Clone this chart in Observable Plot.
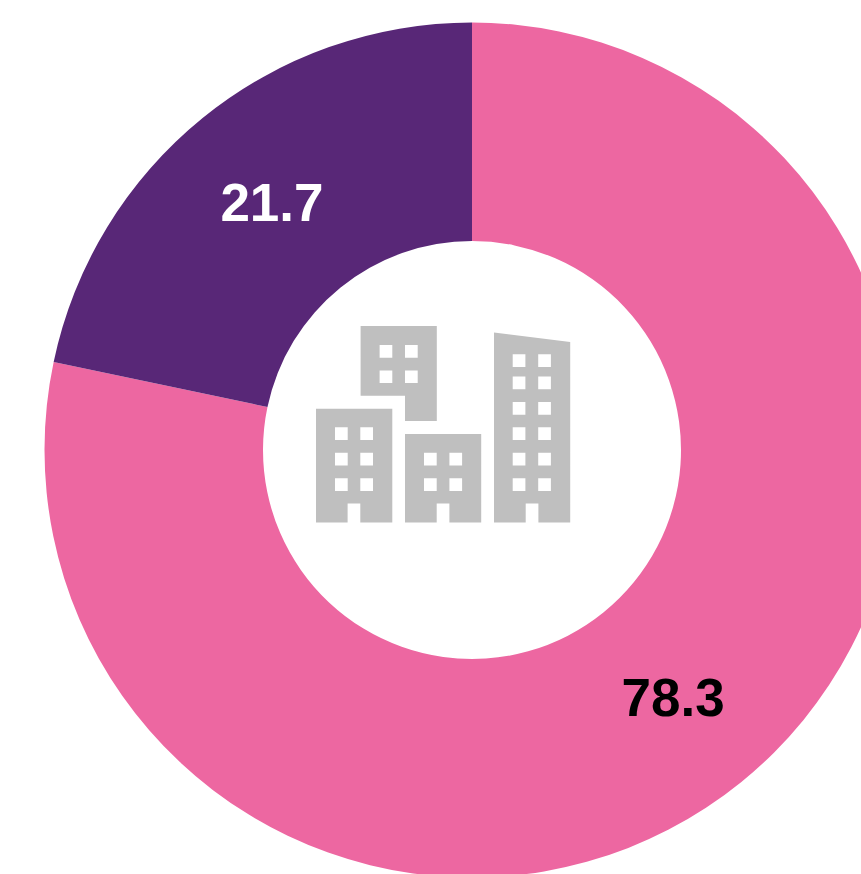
<!DOCTYPE html>
<html>
<head>
<meta charset="utf-8">
<script src="https://cdn.jsdelivr.net/npm/d3@7"></script>
<script src="https://cdn.jsdelivr.net/npm/@observablehq/plot@0.6"></script>
<style>
html,body{margin:0;padding:0;background:#fff;overflow:hidden}
svg{display:block}
</style>
</head>
<body>
<div id="chart"></div>
<script>
// Data
const categories = ["Rest", "Share"];
const shares = [78.3, 21.7];
const labels = ["78.3", "21.7"];
const sliceColors = ["#ED67A1", "#582777"];
const labelColors = ["#000000", "#FFFFFF"];

// Layout
const WIDTH = 861, HEIGHT = 874;
const CX = 472, CY = 450, R_OUTER = 427.5, R_INNER = 209;
const ICON_COLOR = "#BFBFBF";

// Stacked table built from the arrays
let running = 0;
const slices = categories.map((c, i) => {
  const start = running;
  running += shares[i];
  return {category: c, start, end: running, mid: (start + running) / 2,
          label: labels[i], fill: sliceColors[i], labelFill: labelColors[i]};
});

const arc = d3.arc().innerRadius(R_INNER).outerRadius(R_OUTER);
const rMid = (R_INNER + R_OUTER) / 2;

// Building icon, as one even-odd path
const rect = (x0, y0, x1, y1) => `M${x0} ${y0}H${x1}V${y1}H${x0}Z`;
const iconOutline = [
  "M360.6 326H436.8V421H405V395.7H360.6Z",
  "M316 408.7H392.3V522.6H360.3V503.6H347.6V522.6H316Z",
  "M405 434H481.2V522.6H449.4V503.6H436.7V522.6H405Z",
  "M494 332.4L570.2 342V522.6H538.4V503.6H525.7V522.6H494Z"
].join("");
const windowColumns = [
  {xs: [379.6, 405], ys: [345, 370.4]},
  {xs: [335, 360.3], ys: [427.3, 452.7, 478.2]},
  {xs: [424, 449.4], ys: [452.7, 478.2]},
  {xs: [512.7, 538.2], ys: [354.2, 376.6, 402, 427.3, 452.7, 478.2]}
];
const windowPath = windowColumns.flatMap(({xs, ys}) =>
  xs.flatMap(x => ys.map(y => rect(x, y, x + 12.7, y + 12.7)))).join("");

function iconMark() {
  const g = d3.create("svg:g");
  g.append("path")
    .attr("d", iconOutline + windowPath)
    .attr("fill", ICON_COLOR)
    .attr("fill-rule", "evenodd");
  return g.node();
}

const chart = Plot.plot({
  width: WIDTH,
  height: HEIGHT,
  margin: 0,
  style: {background: "#fff", overflow: "hidden"},
  x: {domain: [0, 100], range: [0, 2 * Math.PI], axis: null},
  y: {axis: null},
  color: {type: "identity"},
  marks: [
    Plot.barX(slices, {
      x1: "start",
      x2: "end",
      fill: "fill",
      render(index, scales, values) {
        const g = d3.create("svg:g");
        for (const i of index) {
          g.append("path")
            .attr("transform", `translate(${CX},${CY})`)
            .attr("d", arc({startAngle: values.x1[i], endAngle: values.x2[i]}))
            .attr("fill", slices[i].fill);
        }
        return g.node();
      }
    }),
    iconMark,
    Plot.text(slices, {
      x: "mid",
      text: "label",
      fill: "labelFill",
      fontFamily: "Liberation Sans, Arial, sans-serif",
      fontWeight: 700,
      fontSize: 53,
      textAnchor: "middle",
      lineAnchor: "middle",
      dy: 1,
      render(index, scales, values, dimensions, context, next) {
        const X = Array.from(values.x, a => CX + rMid * Math.sin(a));
        const Y = Array.from(values.x, a => CY - rMid * Math.cos(a));
        return next(index, scales, {...values, x: X, y: Y}, dimensions, context);
      }
    })
  ]
});
document.getElementById("chart").append(chart);
</script>
</body>
</html>
